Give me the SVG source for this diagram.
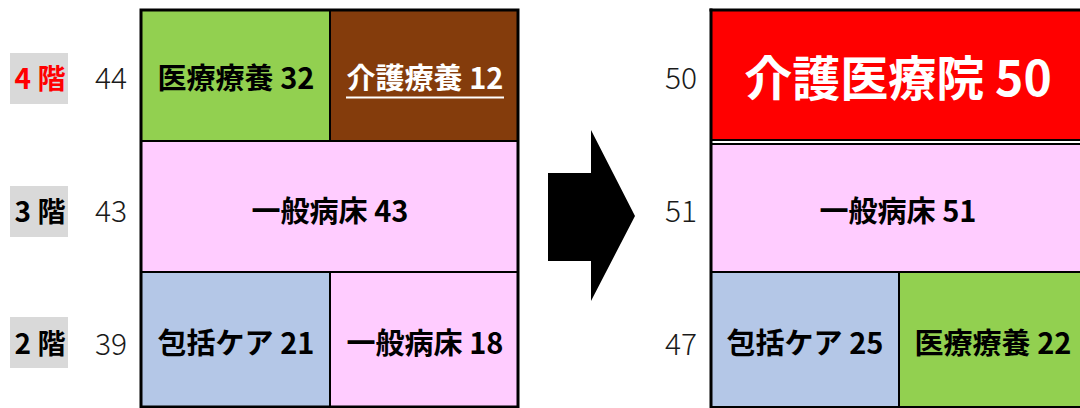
<svg xmlns="http://www.w3.org/2000/svg" width="1080" height="408" viewBox="0 0 1080 408">
<style>
.cell{stroke:#000;stroke-width:2}
.lbl{font-family:"Noto Sans CJK JP","Noto Sans",sans-serif;font-weight:700;font-size:29px;text-anchor:middle;fill:#000}
.num{font-family:"Noto Sans CJK JP","Noto Sans",sans-serif;font-weight:300;font-size:30px;text-anchor:end;fill:#1a1a1a}
.floor{font-family:"Noto Sans CJK JP","Noto Sans",sans-serif;font-weight:700;font-size:28px;text-anchor:middle;fill:#000}
.fbg{fill:#D9D9D9}
</style>
<rect width="1080" height="408" fill="#fff"/>

<g id="floor4">
<rect class="fbg" x="10" y="53" width="58" height="51"/>
<text class="floor" x="40" y="89" style="fill:#FF0000">4 階</text>
</g>
<g id="floor3">
<rect class="fbg" x="10" y="186" width="58" height="51"/>
<text class="floor" x="40" y="222">3 階</text>
</g>
<g id="floor2">
<rect class="fbg" x="10" y="317" width="58" height="51"/>
<text class="floor" x="40" y="354">2 階</text>
</g>

<g id="before-nums">
<text class="num" x="127" y="89">44</text>
<text class="num" x="127" y="222">43</text>
<text class="num" x="127" y="355">39</text>
</g>

<g id="before">
<g id="b-4-ryoyo">
<rect class="cell" x="141" y="10" width="189" height="131" fill="#92D050"/>
<text class="lbl" x="236" y="89">医療療養 32</text>
</g>
<g id="b-4-kaigo">
<rect class="cell" x="330" y="10" width="188" height="131" fill="#843C0C"/>
<text class="lbl" x="425" y="89" style="fill:#fff">介護療養 12</text>
<line x1="346" y1="97.5" x2="504" y2="97.5" stroke="#fff" stroke-width="2"/>
</g>
<g id="b-3-ippan">
<rect class="cell" x="141" y="141" width="377" height="131" fill="#FFCCFF"/>
<text class="lbl" x="330" y="222">一般病床 43</text>
</g>
<g id="b-2-houkatsu">
<rect class="cell" x="141" y="272" width="189" height="135" fill="#B4C7E7"/>
<text class="lbl" x="236" y="354">包括ケア 21</text>
</g>
<g id="b-2-ippan">
<rect class="cell" x="330" y="272" width="188" height="135" fill="#FFCCFF"/>
<text class="lbl" x="425" y="354">一般病床 18</text>
</g>
<rect x="141" y="10" width="377" height="397" fill="none" stroke="#000" stroke-width="3"/>
</g>

<g id="connectors">
<polygon points="548,173 591,173 591,130 635,216 591,301 591,261 548,261" fill="#000"/>
</g>

<g id="after-nums">
<text class="num" x="697" y="89">50</text>
<text class="num" x="697" y="222">51</text>
<text class="num" x="697" y="355">47</text>
</g>

<g id="after">
<g id="a-4-kaigoiryoin">
<rect class="cell" x="711" y="10" width="377" height="130" fill="#FF0000"/>
<text class="lbl" x="898" y="96" style="font-size:48px;fill:#fff">介護医療院 50</text>
</g>
<g id="a-3-ippan">
<rect class="cell" x="711" y="144" width="377" height="128" fill="#FFCCFF"/>
<text class="lbl" x="898" y="222">一般病床 51</text>
</g>
<g id="a-2-houkatsu">
<rect class="cell" x="711" y="272" width="188" height="135" fill="#B4C7E7"/>
<text class="lbl" x="805" y="354">包括ケア 25</text>
</g>
<g id="a-2-ryoyo">
<rect class="cell" x="899" y="272" width="189" height="135" fill="#92D050"/>
<text class="lbl" x="993" y="354">医療療養 22</text>
</g>
<line x1="711" y1="8.5" x2="711" y2="408" stroke="#000" stroke-width="3"/>
<line x1="709.5" y1="10" x2="1080" y2="10" stroke="#000" stroke-width="3"/>
</g>
</svg>
